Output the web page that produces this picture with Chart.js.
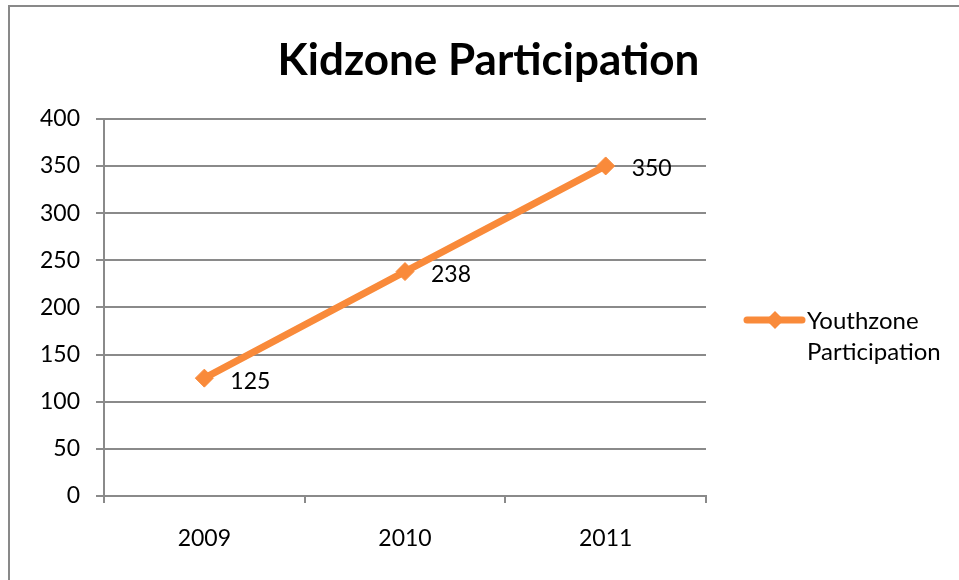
<!DOCTYPE html>
<html><head><meta charset="utf-8">
<script src="https://cdn.jsdelivr.net/npm/chart.js@4"></script>
<style>
html,body{margin:0;padding:0;background:#fff;}
#wrap{position:relative;width:959px;height:580px;overflow:hidden;}
#frame{position:absolute;left:8px;top:5px;width:2000px;height:2000px;border-left:2px solid #898989;border-top:2px solid #898989;pointer-events:none;}
canvas{position:absolute;left:0;top:0;}
</style></head><body>
<div id="wrap"><canvas id="c" width="959" height="580"></canvas><div id="frame"></div></div>
<script>
const categories = ['2009', '2010', '2011'];
const seriesName = 'Youthzone Participation';
const seriesValues = [125, 238, 350];
const chartTitle = 'Kidzone Participation';
const yMin = 0, yMax = 400, yStep = 50;

const LINE = '#F98A3A';
const GRID = '#8a8a8a';
const FONT = 'Lato, "Open Sans", sans-serif';
const TXT = 23;

const dataLabels = {
  id: 'dataLabels',
  afterDatasetsDraw(chart) {
    const ctx = chart.ctx;
    const meta = chart.getDatasetMeta(0);
    const vals = chart.data.datasets[0].data;
    ctx.save();
    ctx.font = TXT + 'px ' + FONT;
    ctx.fillStyle = '#000';
    ctx.textAlign = 'left';
    ctx.textBaseline = 'middle';
    meta.data.forEach((pt, i) => ctx.fillText(String(vals[i]), pt.x + 26, pt.y + 3));
    ctx.restore();
  }
};

const sideLegend = {
  id: 'sideLegend',
  afterDraw(chart) {
    const ctx = chart.ctx;
    const ds = chart.data.datasets[0];
    const x0 = chart.chartArea.right + 41;
    const y0 = 320;
    ctx.save();
    ctx.strokeStyle = ds.borderColor;
    ctx.lineWidth = 7;
    ctx.lineCap = 'round';
    ctx.beginPath(); ctx.moveTo(x0, y0); ctx.lineTo(x0 + 55, y0); ctx.stroke();
    const cx = x0 + 28, r = 9;
    ctx.fillStyle = ds.borderColor;
    ctx.beginPath();
    ctx.moveTo(cx, y0 - r); ctx.lineTo(cx + r, y0); ctx.lineTo(cx, y0 + r); ctx.lineTo(cx - r, y0); ctx.closePath();
    ctx.fill();
    ctx.font = '24px ' + FONT;
    ctx.fillStyle = '#000';
    ctx.textAlign = 'left';
    ctx.textBaseline = 'middle';
    ds.label.split(' ').forEach((w, i) => ctx.fillText(w, x0 + 60, y0 + 1 + i * 31));
    ctx.restore();
  }
};

new Chart(document.getElementById('c'), {
  type: 'line',
  data: {
    labels: categories,
    datasets: [{
      label: seriesName,
      data: seriesValues,
      borderColor: LINE,
      backgroundColor: LINE,
      borderWidth: 7,
      tension: 0,
      pointStyle: 'rectRot',
      pointRadius: 9,
      pointHoverRadius: 9,
      pointBorderWidth: 1,
      pointBackgroundColor: LINE,
      pointBorderColor: LINE,
      borderCapStyle: 'round',
      yAxisID: 'y'
    }]
  },
  options: {
    responsive: false,
    animation: false,
    devicePixelRatio: 1,
    layout: { padding: { left: 18, right: 0, top: 0, bottom: 0 } },
    plugins: {
      legend: { display: false },
      tooltip: { enabled: false },
      title: {
        display: true,
        text: chartTitle,
        color: '#000',
        font: { family: FONT, size: 44, weight: 'bold', lineHeight: 1.2 },
        padding: { top: 34, bottom: 32 }
      }
    },
    scales: {
      x: {
        type: 'category',
        offset: true,
        grid: { offset: true, drawOnChartArea: false, drawTicks: true, tickLength: 7, color: GRID, lineWidth: 2 },
        border: { display: true, color: GRID, width: 2 },
        ticks: { color: '#000', font: { family: FONT, size: TXT }, padding: 22, maxRotation: 0 },
        afterFit(s) { s.height = 84; }
      },
      y: {
        position: 'left',
        min: yMin, max: yMax,
        ticks: { stepSize: yStep, color: '#000', font: { family: FONT, size: TXT }, padding: 16 },
        grid: { color: GRID, lineWidth: 2, tickLength: 8 },
        border: { display: true, color: GRID, width: 2 },
        afterFit(s) { s.width = 86; }
      },
      legendSpace: {
        type: 'linear',
        position: 'right',
        display: true,
        grid: { display: false, drawOnChartArea: false },
        border: { display: false },
        ticks: { display: false },
        afterFit(s) { s.width = 253; }
      }
    }
  },
  plugins: [dataLabels, sideLegend]
});
</script>
</body></html>
